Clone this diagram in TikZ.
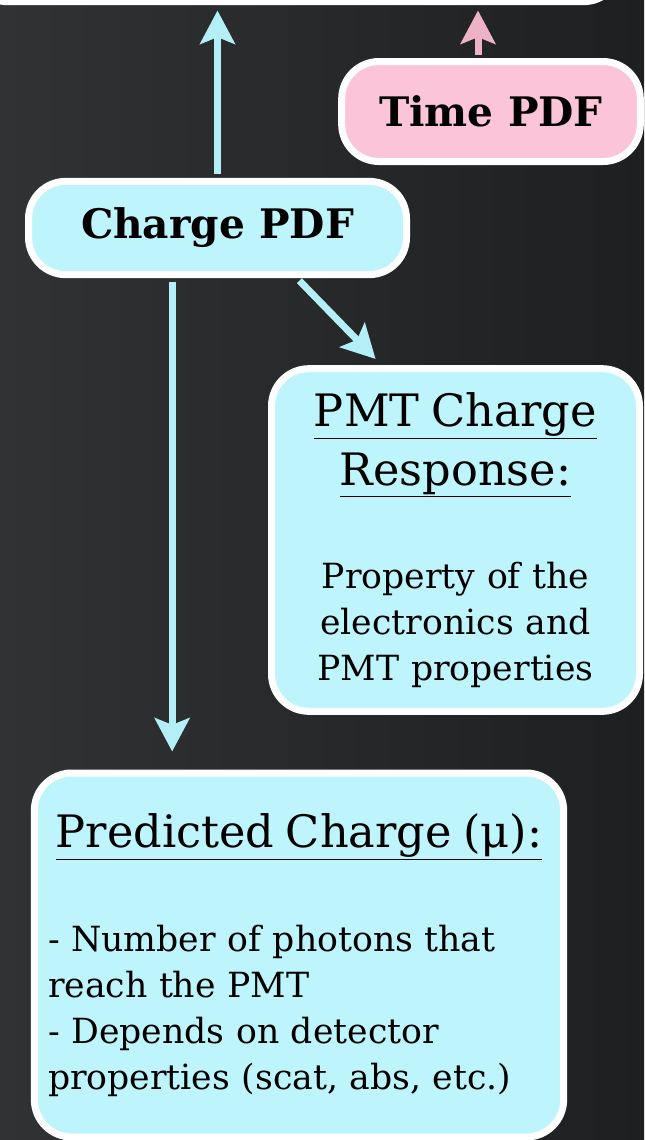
\documentclass[tikz,border=0pt]{standalone}
\usepackage{fontspec}
\setmainfont{DejaVu Serif}
\usetikzlibrary{arrows.meta}

\definecolor{boardlight}{RGB}{48,50,52}
\definecolor{boarddark}{RGB}{30,31,32}
\definecolor{chargefill}{RGB}{190,245,252}
\definecolor{timefill}{RGB}{252,196,216}
\definecolor{chargeline}{RGB}{180,238,246}
\definecolor{timeline}{RGB}{238,178,198}

\tikzset{every picture/.style={line width=0.75pt}}
\tikzset{
	card/.style={draw=white, line width=5.25pt, rounded corners=28pt, inner sep=0pt, text=black},
	pdflabel/.style={card, font=\bfseries\fontsize{30.5}{36}\selectfont},
	feed/.style={line width=5.25pt, -{Stealth[length=25pt,width=26pt,inset=5pt]}}
}

\begin{document}
\begin{tikzpicture}[x=0.75pt,y=0.75pt,yscale=-1,xscale=1]
	\useasboundingbox (0,0) rectangle (644,1140);
	% Background
	\shade[left color=boardlight, right color=boarddark] (0,0) rectangle (644,1140);

	% Boxes
	\node[card, fill=chargefill, minimum width=488pt, minimum height=151pt] (likelihood) at (295.5,-99) {};
	\node[pdflabel, fill=timefill, minimum width=224pt, minimum height=75pt] (time) at (491,111.5) {Time PDF};
	\node[pdflabel, fill=chargefill, minimum width=283.5pt, minimum height=70pt] (charge) at (217.5,228) {Charge PDF};
	\node[card, fill=chargefill, minimum width=276pt, minimum height=257pt, text width=270pt, align=center, font=\fontsize{26}{34.5}\selectfont] (pmt) at (455.5,540)
		{{\fontsize{33.5}{44}\selectfont\underline{PMT Charge}\par\underline{Response:}\par}\vspace{43pt}Property of the\par electronics and\par PMT properties};
	\node[card, fill=chargefill, minimum width=397pt, minimum height=273pt, text width=376.5pt, align=left, font=\fontsize{26}{34.5}\selectfont] (pred) at (299,955)
		{{\fontsize{33.5}{44}\selectfont\makebox[\linewidth]{\underline{Predicted Charge (μ):}}\par}\vspace{43pt}- Number of photons that\par reach the PMT\par - Depends on detector\par properties (scat, abs, etc.)};

	% Arrows
	\coordinate (timeup) at ([xshift=-9.75pt]time.north);
	\coordinate (chargedown) at ([xshift=-34pt]charge.south);
	\coordinate (chargeside) at ([xshift=59.6pt]charge.south);
	\coordinate (pmtcorner) at ([xshift=-55.4pt]pmt.north);
	\draw[feed, chargeline, shorten <=2.6pt, shorten >=4pt] (charge.north) -- (charge.north |- likelihood.south);
	\draw[feed, timeline, shorten <=2.6pt, shorten >=4pt] (timeup) -- (timeup |- likelihood.south);
	\draw[feed, chargeline, shorten <=2.6pt, shorten >=13.5pt] (chargedown) -- (chargedown |- pred.north);
	\draw[feed, chargeline, shorten <=2.6pt, shorten >=6.5pt] (chargeside) -- (pmtcorner);

\end{tikzpicture}
\end{document}
